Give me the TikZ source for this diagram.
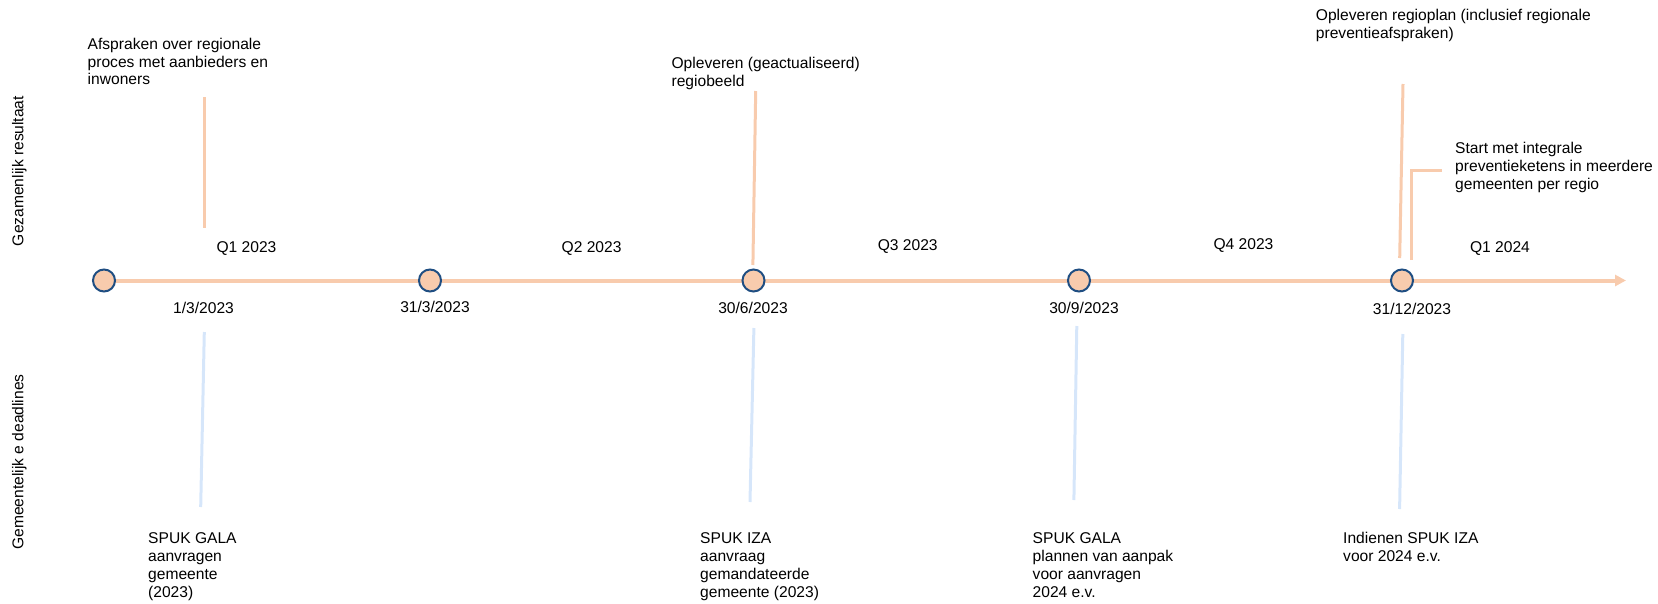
\documentclass[tikz,border=0pt]{standalone}
\usepackage{fontspec}
\setmainfont{Liberation Sans}
\usetikzlibrary{arrows.meta,backgrounds}
\definecolor{peach}{RGB}{248,203,173}
\definecolor{rimblue}{RGB}{31,78,130}
\definecolor{paleblue}{RGB}{214,230,250}
\newcommand{\fstrut}{\rule{0pt}{11.8pt}}
\begin{document}
\begin{tikzpicture}[x=1pt,y=-1pt,
  lbl/.style={font=\fontsize{15.6}{17.8}\selectfont, inner sep=0pt, text=black},
  multi/.style={lbl, anchor=north west, align=left},
  single/.style={lbl, anchor=base},
  milestone/.style={circle, draw=rimblue, fill=peach, line width=2pt, minimum size=22pt, inner sep=0pt},
  resline/.style={draw=peach, line width=3pt},
  deadline/.style={draw=paleblue, line width=3pt},
  axisline/.style={draw=peach, line width=4pt, -{Triangle[length=11pt,width=11pt]}}]
\useasboundingbox (0,0) rectangle (1658,603);

% side labels
\node[lbl, rotate=90] (side1) at (19.3,171) {Gezamenlijk resultaat};
\node[lbl, rotate=90] (side2) at (19.3,462) {Gemeentelijk e deadlines};

% milestones
\node[milestone] (c1) at (104,280.5) {};
\node[milestone] (c2) at (430,280.5) {};
\node[milestone] (c3) at (753.5,280.5) {};
\node[milestone] (c4) at (1079,280.5) {};
\node[milestone] (c5) at (1402,280.5) {};
\coordinate (tip) at (1626,280.5);
\begin{pgfonlayer}{background}
\draw[axisline] (c1.center) -- (tip);
\end{pgfonlayer}

% quarter labels
\node[single] (q1) at (246.5,252.5) {Q1 2023};
\node[single] (q2) at (591.6,252.5) {Q2 2023};
\node[single] (q3) at (907.7,250.5) {Q3 2023};
\node[single] (q4) at (1243.5,249.5) {Q4 2023};
\node[single] (q5) at (1500,252.5) {Q1 2024};

% date labels
\node[single] (d1) at (203.5,313.5) {1/3/2023};
\node[single] (d2) at (435,312.5) {31/3/2023};
\node[single] (d3) at (753,313.5) {30/6/2023};
\node[single] (d4) at (1084,313.5) {30/9/2023};
\node[single] (d5) at (1412,314.5) {31/12/2023};

% joint results (top)
\node[multi] (r1) at (87.5,37.2) {\fstrut Afspraken over regionale\\proces met aanbieders en\\inwoners};
\node[multi] (r3) at (671.4,56.7) {\fstrut Opleveren (geactualiseerd)\\regiobeeld};
\node[multi] (r5) at (1315.7,8.7) {\fstrut Opleveren regioplan (inclusief regionale\\preventieafspraken)};
\node[multi] (r6) at (1455,141.7) {\fstrut Start met integrale\\preventieketens in meerdere\\gemeenten per regio};

% municipal deadlines (bottom)
\node[multi] (m1) at (148,531.7) {\fstrut SPUK GALA\\aanvragen\\gemeente\\(2023)};
\node[multi] (m3) at (700,531.7) {\fstrut SPUK IZA\\aanvraag\\gemandateerde\\gemeente (2023)};
\node[multi] (m4) at (1032.5,531.7) {\fstrut SPUK GALA\\plannen van aanpak\\voor aanvragen\\2024 e.v.};
\node[multi] (m5) at (1343,531.7) {\fstrut Indienen SPUK IZA\\voor 2024 e.v.};

% orange connector lines
\coordinate (o1a) at (204,97);     \coordinate (o1b) at (204,228);
\coordinate (o3a) at (755.7,91);   \coordinate (o3b) at (752.9,265);
\coordinate (o5a) at (1403,84);    \coordinate (o5b) at (1399.7,258);
\coordinate (o6a) at (1411.5,260); \coordinate (o6b) at (1442,170);
\draw[resline] (o1a) -- (o1b);
\draw[resline] (o3a) -- (o3b);
\draw[resline] (o5a) -- (o5b);
\draw[resline] (o6a) |- (o6b);

% blue connector lines
\coordinate (b1a) at (204.3,332);  \coordinate (b1b) at (200.7,507);
\coordinate (b3a) at (753.9,328);  \coordinate (b3b) at (750,502);
\coordinate (b4a) at (1076.8,326); \coordinate (b4b) at (1073.9,500);
\coordinate (b5a) at (1402.8,334); \coordinate (b5b) at (1399.6,509);
\draw[deadline] (b1a) -- (b1b);
\draw[deadline] (b3a) -- (b3b);
\draw[deadline] (b4a) -- (b4b);
\draw[deadline] (b5a) -- (b5b);
\end{tikzpicture}
\end{document}
